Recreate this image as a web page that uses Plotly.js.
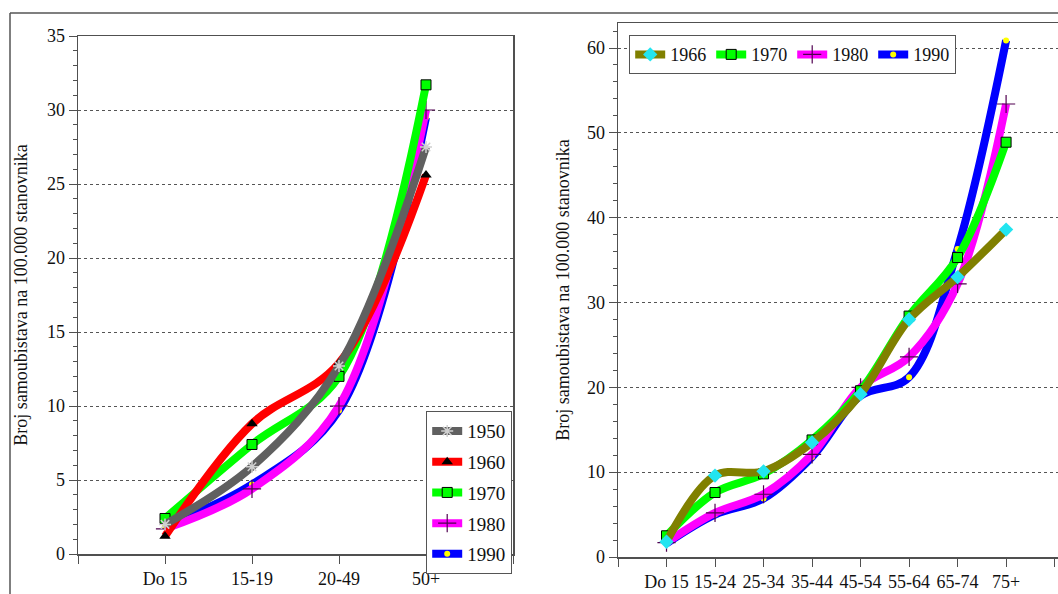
<!DOCTYPE html>
<html>
<head>
<meta charset="utf-8">
<script src="https://cdn.plot.ly/plotly-3.0.1.min.js"></script>
<style>
html,body{margin:0;padding:0;background:#fff;}
#chart{width:1058px;height:594px;}
</style>
</head>
<body>
<div id="chart"></div>
<script>
// ---- Left chart data ----
const leftCats = ['Do 15', '15-19', '20-49', '50+'];
const left1950 = [2.0, 5.9, 12.7, 27.5];
const left1960 = [1.2, 8.8, 12.9, 25.6];
const left1970 = [2.4, 7.4, 12.0, 31.7];
const left1980 = [1.7, 4.4, 10.0, 30.0];
const left1990 = [1.9, 4.7, 9.7, 29.5];
const leftYears = ['1950', '1960', '1970', '1980', '1990'];

// ---- Right chart data ----
const rightCats = ['Do 15', '15-24', '25-34', '35-44', '45-54', '55-64', '65-74', '75+'];
const right1966 = [1.8, 9.6, 10.1, 13.5, 19.2, 28.0, 33.0, 38.6];
const right1970 = [2.5, 7.6, 9.8, 13.8, 19.6, 28.4, 35.3, 48.9];
const right1980 = [1.7, 5.2, 7.4, 12.1, 20.0, 23.6, 32.2, 53.4];
const right1990 = [1.6, 5.0, 6.9, 11.8, 19.0, 21.2, 36.3, 60.9];
const rightYears = ['1966', '1970', '1980', '1990'];

const yTitle = 'Broj samoubistava na 100.000 stanovnika';

const W = 1058, H = 594;
const px = v => v / W;
const py = v => 1 - v / H;
const FONT = 'Liberation Serif';

function idx(arr) { return arr.map((_, i) => i); }

function mk(x, y, name, color, marker, xa, ya, legend, group, rank) {
  return {
    type: 'scatter', mode: 'lines+markers', name: name,
    x: x, y: y, xaxis: xa, yaxis: ya, legend: legend, legendgroup: group, legendrank: rank,
    line: { color: color, width: 8, shape: 'spline', smoothing: 1 },
    marker: marker, cliponaxis: false
  };
}

const mAst = { symbol: 'asterisk-open', size: 10, color: '#d0d0d0', line: { color: '#d0d0d0', width: 1.5 } };
const mTri = { symbol: 'triangle-up', size: 10, color: '#000000' };
const mSq = { symbol: 'square', size: 10, color: '#00ff00', line: { color: '#000000', width: 1 } };
const mPlus = { symbol: 'cross-thin-open', size: 13, color: '#500050', line: { color: '#500050', width: 1.2 } };
const mDot = { symbol: 'circle', size: 6, color: '#ffff00', line: { width: 0 } };
const mDia = { symbol: 'diamond', size: 11, color: '#22e5f0', line: { width: 0 } };

const lx = idx(leftCats);
const rx = idx(rightCats);

// Drawing order: later series below, earlier series on top
const traces = [
  mk(lx, left1990, leftYears[4], '#0000ff', mDot, 'x', 'y', 'legend', 'l5', 5),
  mk(lx, left1980, leftYears[3], '#ff00ff', mPlus, 'x', 'y', 'legend', 'l4', 4),
  mk(lx, left1970, leftYears[2], '#00ff00', mSq, 'x', 'y', 'legend', 'l3', 3),
  mk(lx, left1960, leftYears[1], '#ff0000', mTri, 'x', 'y', 'legend', 'l2', 2),
  mk(lx, left1950, leftYears[0], '#606060', mAst, 'x', 'y', 'legend', 'l1', 1),
  mk(rx, right1990, rightYears[3], '#0000ff', mDot, 'x2', 'y2', 'legend2', undefined, 4),
  mk(rx, right1980, rightYears[2], '#ff00ff', mPlus, 'x2', 'y2', 'legend2', undefined, 3),
  mk(rx, right1970, rightYears[1], '#00ff00', mSq, 'x2', 'y2', 'legend2', undefined, 2),
  mk(rx, right1966, rightYears[0], '#808000', mDia, 'x2', 'y2', 'legend2', undefined, 1)
];

const axisLine = '#505050';
const tickFont = { family: FONT, size: 18, color: '#111' };

function xTicks(cats) {
  const vals = [-1], txt = [''];
  cats.forEach((c, i) => { vals.push(i); txt.push(c); });
  vals.push(cats.length); txt.push('');
  vals.push(cats.length + 1); txt.push('');
  return { vals, txt };
}
const lt = xTicks(leftCats);
const rt = xTicks(rightCats);

const layout = {
  width: W, height: H,
  margin: { l: 0, r: 0, t: 0, b: 0 },
  paper_bgcolor: '#ffffff', plot_bgcolor: '#ffffff',
  font: { family: FONT, size: 17, color: '#111' },
  showlegend: true,
  xaxis: {
    domain: [px(78), px(513)], range: [-1, 4], anchor: 'y',
    tickmode: 'array', tickvals: lt.vals, ticktext: lt.txt,
    ticks: 'outside', ticklen: 8, tickcolor: axisLine, tickwidth: 1,
    showline: true, linecolor: axisLine, linewidth: 1.5, mirror: true,
    showgrid: false, zeroline: false, tickfont: tickFont, fixedrange: true
  },
  yaxis: {
    domain: [py(554), py(36)], range: [0, 35], anchor: 'x',
    dtick: 5, tick0: 0, ticks: 'outside', ticklen: 8, tickcolor: axisLine,
    minor: { dtick: 1, ticks: 'outside', ticklen: 4, tickcolor: axisLine, showgrid: false },
    showline: true, linecolor: axisLine, linewidth: 1.5, mirror: true,
    showgrid: true, gridcolor: '#555', griddash: 'dot', gridwidth: 1,
    zeroline: false, tickfont: tickFont,
    title: { text: yTitle, font: { family: FONT, size: 18, color: '#111' }, standoff: 14 }
  },
  xaxis2: {
    domain: [px(618), 1], range: [-1, 8.07], anchor: 'y2',
    tickmode: 'array', tickvals: rt.vals, ticktext: rt.txt,
    ticks: 'outside', ticklen: 8, tickcolor: axisLine, tickwidth: 1,
    showline: true, linecolor: axisLine, linewidth: 1.5, mirror: true,
    showgrid: false, zeroline: false, tickfont: tickFont, fixedrange: true
  },
  yaxis2: {
    domain: [py(557), py(23)], range: [0, 62.95], anchor: 'x2',
    dtick: 10, tick0: 0, ticks: 'outside', ticklen: 8, tickcolor: axisLine,
    minor: { dtick: 2, ticks: 'outside', ticklen: 4, tickcolor: axisLine, showgrid: false },
    showline: true, linecolor: axisLine, linewidth: 1.5, mirror: true,
    showgrid: true, gridcolor: '#555', griddash: 'dot', gridwidth: 1,
    zeroline: false, tickfont: tickFont,
    title: { text: yTitle, font: { family: FONT, size: 18, color: '#111' }, standoff: 12 }
  },
  legend: {
    x: px(512), xanchor: 'right', y: py(411), yanchor: 'top',
    bgcolor: '#ffffff', bordercolor: '#555', borderwidth: 1.2,
    font: { family: FONT, size: 19, color: '#111' },
    traceorder: 'grouped', tracegroupgap: 3, itemwidth: 30
  },
  legend2: {
    orientation: 'h',
    x: px(629), xanchor: 'left', y: py(35), yanchor: 'top',
    bgcolor: '#ffffff', bordercolor: '#555', borderwidth: 1.2,
    font: { family: FONT, size: 18, color: '#111' },
    traceorder: 'normal', itemwidth: 30, entrywidth: 36
  },
  shapes: [
    { type: 'line', xref: 'paper', yref: 'paper', x0: px(10), x1: 1, y0: py(13), y1: py(13), line: { color: '#555', width: 1.5 } },
    { type: 'line', xref: 'paper', yref: 'paper', x0: px(10), x1: px(10), y0: py(13), y1: 0, line: { color: '#555', width: 1.5 } }
  ]
};

Plotly.newPlot('chart', traces, layout, { displayModeBar: false, staticPlot: true });
</script>
</body>
</html>
